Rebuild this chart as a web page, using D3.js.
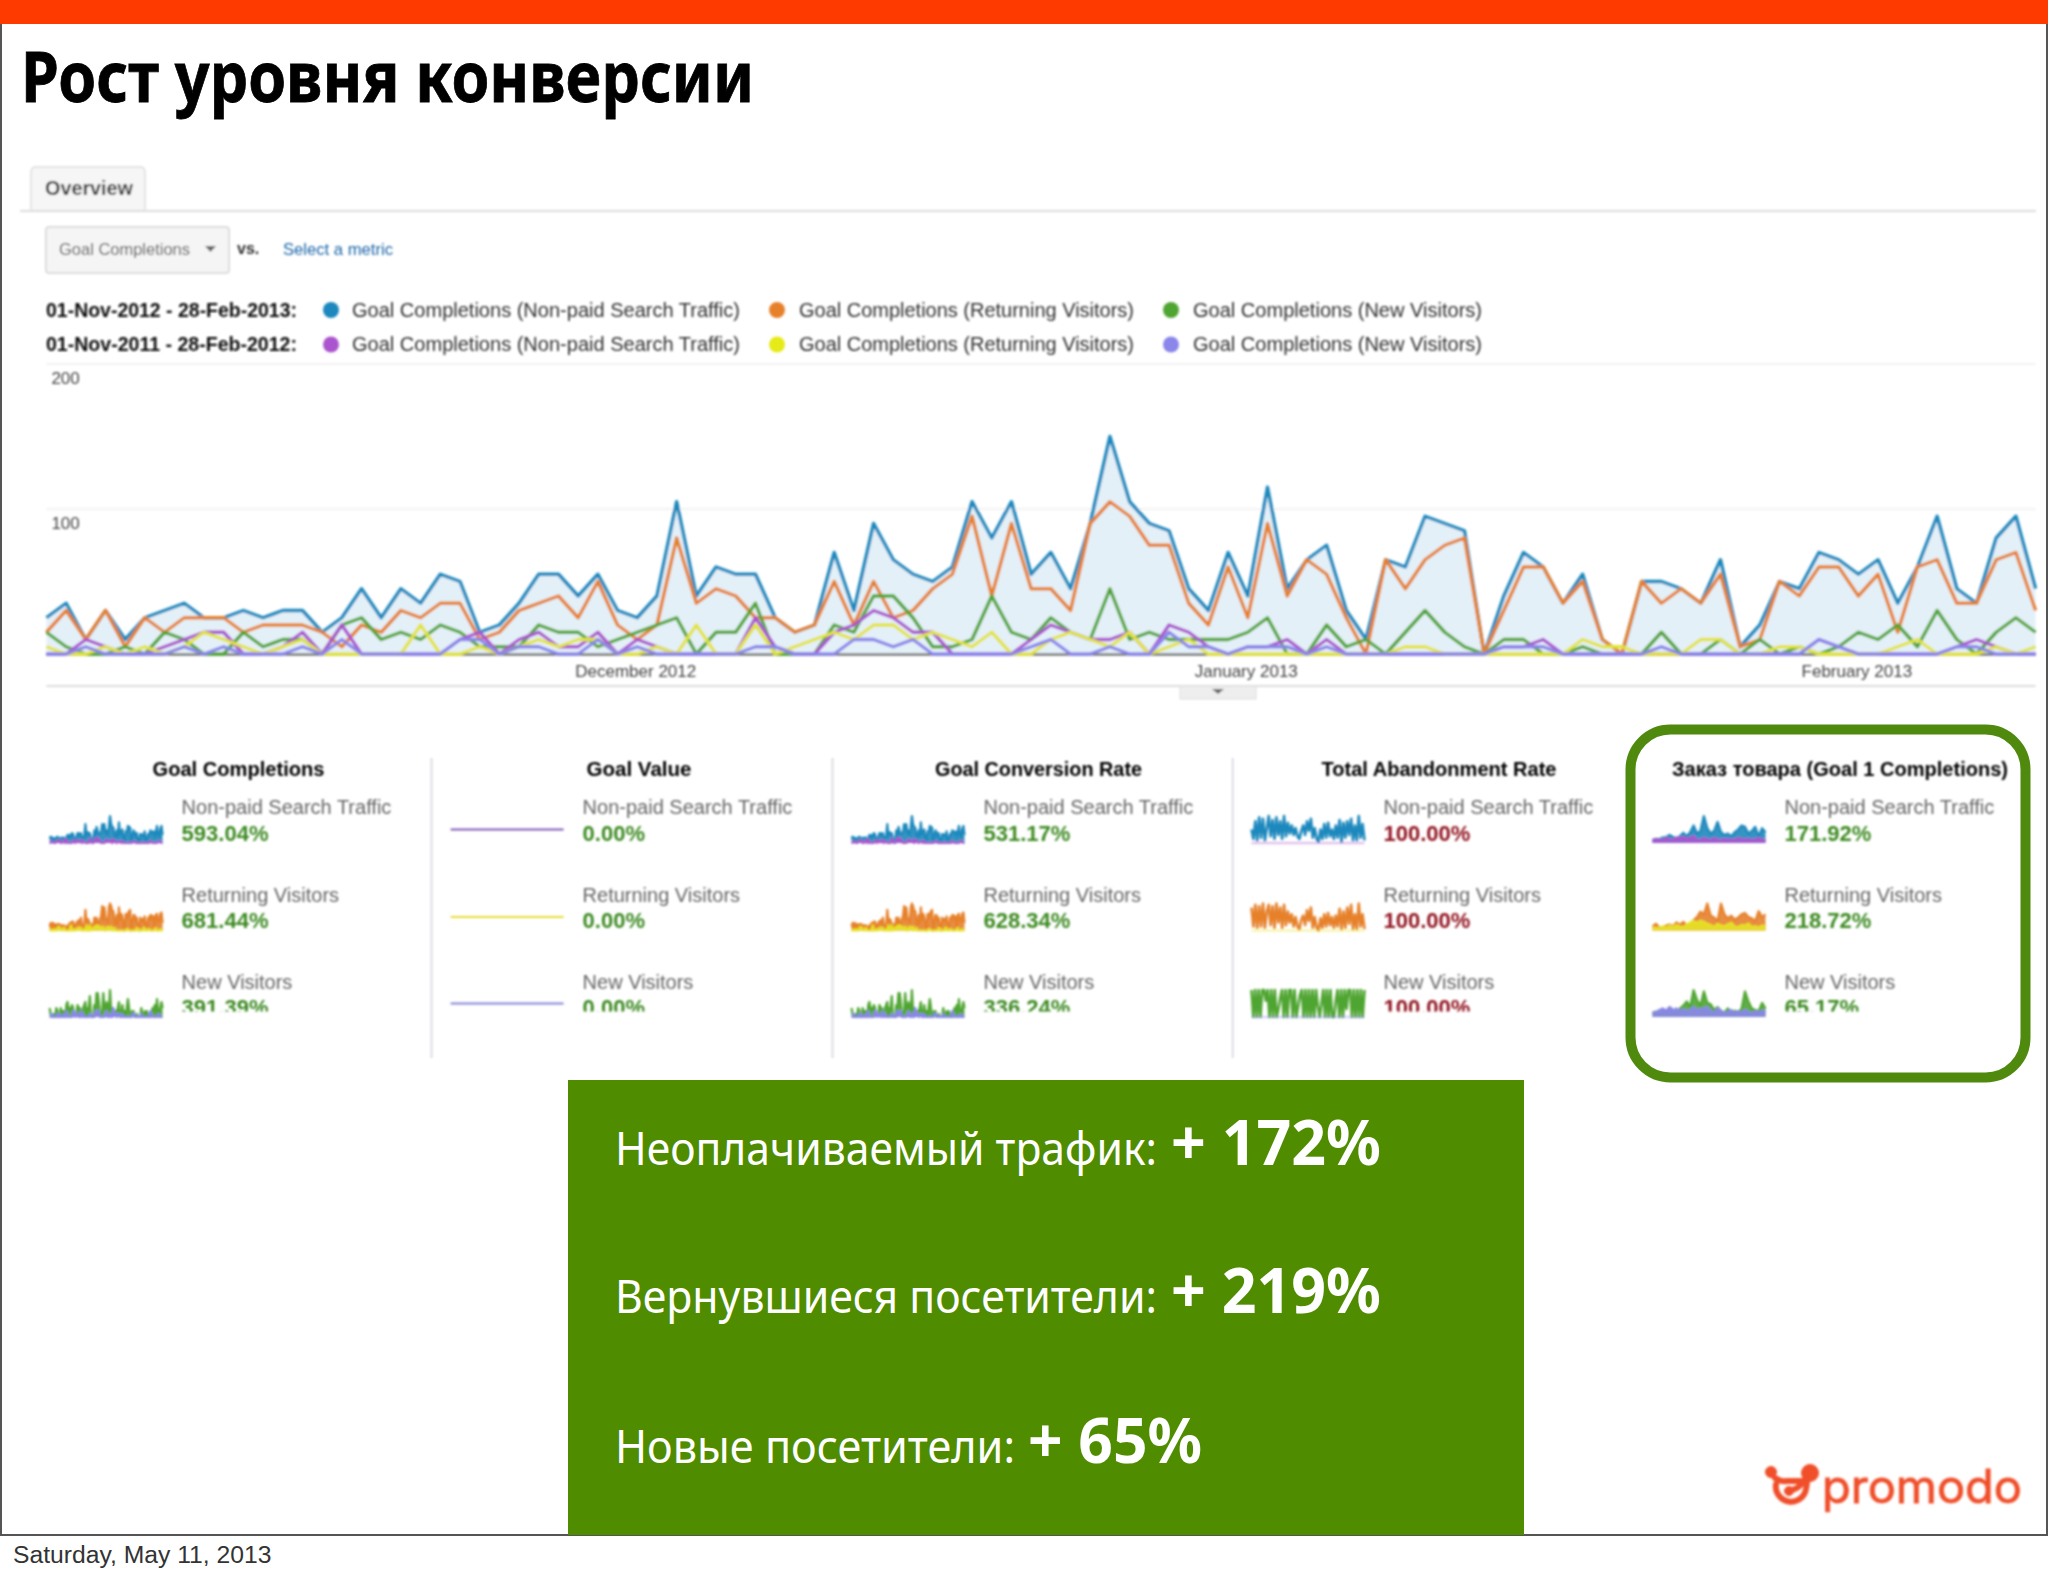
<!DOCTYPE html>
<html>
<head>
<meta charset="utf-8">
<style>
  html, body { margin: 0; padding: 0; background: #fff; }
  svg { display: block; }
  text { font-family: "Liberation Sans", Arial, sans-serif; }
</style>
<script src="https://cdn.jsdelivr.net/npm/d3@7/dist/d3.min.js"></script>
</head>
<body>
<svg id="slide" width="2048" height="1576"></svg>
<script>
// Daily goal completions
var blueCurrent = [
  25,35,10,30,10,25,30,35,25,25,30,25,30,30,15,25,45,25,45,35,55,50,15,20,35,55,55,40,55,30,25,40,105,40,
  60,55,55,25,15,20,70,30,90,65,55,50,60,105,80,105,55,70,45,90,150,105,90,85,45,30,70,40,115,45,65,75,30,10,
  65,60,95,90,85,0,40,70,60,35,55,10,0,50,50,45,35,65,5,20,50,45,70,65,55,65,35,60,95,45,35,80,95,45];
var orangeCurrent = [
  15,30,10,30,5,25,15,25,25,25,15,20,20,20,15,5,20,15,30,25,35,35,10,15,30,35,40,25,50,20,10,20,80,35,
  45,40,25,25,15,20,50,20,50,25,30,45,55,95,40,90,45,45,30,90,105,95,75,75,35,20,60,25,90,40,65,55,25,0,
  65,45,65,75,80,0,30,60,60,35,50,10,0,50,35,45,35,55,5,10,50,40,60,60,40,55,15,60,65,35,35,65,70,30];
var greenCurrent = [
  15,5,0,0,5,0,15,10,0,0,15,5,10,10,0,20,25,10,15,10,20,15,5,5,5,20,15,15,5,10,15,20,25,0,
  15,15,35,0,0,0,20,15,40,40,25,5,5,10,40,15,10,25,15,10,45,10,15,10,10,10,10,15,25,0,0,20,5,10,
  0,15,30,15,5,0,10,10,0,0,5,0,0,0,15,0,0,10,0,10,0,5,0,5,15,10,20,5,30,10,0,15,25,15];
var purplePrev = [
  0,0,10,5,0,0,5,10,15,15,0,0,5,15,0,20,0,0,0,0,0,10,15,0,10,15,5,5,15,0,10,5,0,0,
  0,0,25,5,0,0,15,20,30,25,15,15,0,0,0,0,10,20,15,10,10,15,0,20,15,5,0,5,5,10,0,10,0,0,
  0,0,0,0,0,0,5,5,10,0,0,0,0,0,0,0,0,0,0,0,0,0,10,5,0,0,0,0,0,5,10,5,0,0];
var yellowPrev = [
  5,0,0,5,0,5,0,5,15,10,5,0,5,10,0,0,0,0,0,20,0,0,5,0,5,10,5,10,10,0,0,5,0,20,
  0,0,20,0,5,10,15,10,20,20,10,15,10,5,15,0,0,10,15,10,5,15,0,5,10,0,0,0,0,0,0,0,0,0,
  0,5,5,0,0,0,0,0,0,0,10,5,5,0,0,0,10,10,0,0,5,5,0,0,0,0,5,10,0,0,0,5,0,5];
var slatePrev = [
  0,0,5,0,0,0,0,5,0,5,0,0,0,5,0,10,0,0,0,0,0,10,10,0,5,5,0,0,10,0,5,0,0,0,
  0,0,5,5,0,0,0,10,10,5,10,0,0,0,0,0,5,10,0,0,5,0,0,15,5,5,0,5,5,5,0,5,0,0,
  0,0,0,0,0,0,5,5,5,0,0,0,0,0,5,0,0,0,0,0,0,0,10,5,0,0,0,0,0,5,5,0,0,0];

var yTicks = [100, 200];
var monthTicks = [30, 61, 92];
var monthLabels = ["December 2012", "January 2013", "February 2013"];

// Sparklines that have their own shape (estimated from the small pictures)
var abandonBlue = [50,15,80,10,95,20,90,10,55,100,25,85,15,95,30,80,15,100,25,75,35,65,30,55,25,15,45,65,30,80,45,90,20,55,15,5,50,15,70,20,75,25,50,15,65,20,85,5,75,20,80,30,90,10,65,10,100,20,70,10];
var abandonOrange = [85,15,95,10,90,15,100,10,70,95,20,90,10,100,30,85,10,95,20,70,30,60,15,50,15,5,40,55,20,75,35,85,10,50,10,0,45,10,60,15,65,20,50,10,55,15,80,5,70,10,85,25,95,5,60,5,100,15,60,5];
var abandonGreen = [100,0,100,0,100,0,100,100,60,100,0,100,0,100,0,30,70,100,0,100,0,100,100,0,100,0,40,80,100,0,100,0,100,0,100,0,100,40,0,50,100,0,100,0,100,0,0,60,100,0,100,0,100,30,100,100,0,100,0,100,0,100,0,100];
var abandonPrev = [0, 0];
var goal1Blue = [12,15,14,20,22,30,22,18,25,38,25,40,65,35,45,100,55,35,45,78,40,30,35,25,40,50,65,60,35,45,60,25,55,40];
var goal1Purple = [10,15,10,12,18,14,10,20,18,22,15,20,25,12,10,18,14,10,18,12,10,15,12,14,10,18,14,12,16,10,14,18,12,10];
var goal1Orange = [15,25,10,12,18,22,15,30,20,32,18,25,38,50,70,60,100,55,48,35,100,60,45,55,40,48,60,65,50,45,35,72,50,60];
var goal1Yellow = [12,8,10,15,10,18,12,20,15,12,22,30,35,28,36,32,25,20,12,25,18,15,22,28,15,12,20,18,25,12,16,10,18,14];
var goal1Green = [12,20,10,25,18,35,22,15,30,40,55,35,95,60,40,90,50,45,25,35,22,15,30,15,22,18,28,90,55,30,25,20,50,30];
var goal1Slate = [18,14,25,30,22,35,25,30,20,28,18,25,35,22,30,28,35,20,15,30,22,12,18,25,12,20,15,25,18,12,20,15,22,20];
var flat = [0, 0];

var metricTitles = ["Goal Completions", "Goal Value", "Goal Conversion Rate", "Total Abandonment Rate", "Заказ товара (Goal 1 Completions)"];
var rowLabels = ["Non-paid Search Traffic", "Returning Visitors", "New Visitors"];
var metricValues = [
  ["593.04%", "681.44%", "391.39%"],
  ["0.00%", "0.00%", "0.00%"],
  ["531.17%", "628.34%", "336.24%"],
  ["100.00%", "100.00%", "100.00%"],
  ["171.92%", "218.72%", "65.17%"]
];
var legendDates = ["01-Nov-2012 - 28-Feb-2013:", "01-Nov-2011 - 28-Feb-2012:"];
var legendSegments = ["Goal Completions (Non-paid Search Traffic)", "Goal Completions (Returning Visitors)", "Goal Completions (New Visitors)"];
var calloutLabels = ["Неоплачиваемый трафик:", "Вернувшиеся посетители:", "Новые посетители:"];
var calloutValues = ["+ 172%", "+ 219%", "+ 65%"];

var colors = {
  blue: "#1f88bd", orange: "#e6812c", green: "#50a533",
  purple: "#aa55cf", yellow: "#e2e33a", slate: "#8a86ea"
};

var svg = d3.select("#slide");

// Small helper for all the plain text on the slide
function label(parent, x, y, str, size, color, opts) {
  opts = opts || {};
  var t = parent.append("text")
    .attr("x", x).attr("y", y)
    .attr("font-size", size)
    .attr("fill", color)
    .attr("font-weight", opts.weight || "normal")
    .attr("text-anchor", opts.anchor || "start")
    .text(str);
  if (opts.family) t.style("font-family", opts.family);
  if (opts.width) t.attr("textLength", opts.width).attr("lengthAdjust", "spacingAndGlyphs");
  return t;
}

// The analytics screenshot is soft in the reference
var defs = svg.append("defs");
defs.append("filter").attr("id", "soft").attr("x", "-1%").attr("y", "-1%").attr("width", "102%").attr("height", "102%")
  .append("feGaussianBlur").attr("stdDeviation", 0.85);
defs.append("filter").attr("id", "softLogo").attr("x", "-5%").attr("y", "-5%").attr("width", "110%").attr("height", "110%")
  .append("feGaussianBlur").attr("stdDeviation", 0.85);
defs.append("clipPath").attr("id", "cutRow")
  .append("rect").attr("x", 0).attr("y", 0).attr("width", 2048).attr("height", 1011.5);

// Slide frame
svg.append("rect").attr("x", 1).attr("y", 1).attr("width", 2046).attr("height", 1534)
  .attr("fill", "#fff").attr("stroke", "#555").attr("stroke-width", 2);
svg.append("rect").attr("x", 0).attr("y", 0).attr("width", 2048).attr("height", 24).attr("fill", "#ff3a00");

label(svg, 21, 102, "Рост уровня конверсии", 70, "#000", { weight: "bold", family: "'Noto Sans'", width: 733 })
  .attr("stroke", "#000").attr("stroke-width", 0.8);

var shot = svg.append("g").attr("filter", "url(#soft)");

// Tab row
shot.append("path").attr("d", "M31,211V172q0,-5 5,-5H140q5,0 5,5V211Z").attr("fill", "#f6f6f6").attr("stroke", "#ddd").attr("stroke-width", 1.5);
shot.append("line").attr("x1", 20).attr("x2", 2036).attr("y1", 211).attr("y2", 211).attr("stroke", "#dcdde0").attr("stroke-width", 2);
label(shot, 45, 195, "Overview", 20, "#333", { weight: "bold", width: 88 });

// Metric dropdown
shot.append("rect").attr("x", 46).attr("y", 227).attr("width", 183).attr("height", 46).attr("rx", 3)
  .attr("fill", "#f5f5f5").attr("stroke", "#ddd").attr("stroke-width", 2);
label(shot, 59, 255, "Goal Completions", 17, "#555", { width: 131 });
shot.append("path").attr("d", "M205,246h11l-5.5,6Z").attr("fill", "#666");
label(shot, 237, 254, "vs.", 16, "#333", { weight: "bold" });
label(shot, 283, 255, "Select a metric", 17, "#1f66a8", { width: 110 });

// Legend
var legendRows = [
  { y: 316.5, dots: [colors.blue, colors.orange, colors.green] },
  { y: 351, dots: [colors.purple, "#e6ea18", colors.slate] }
];
var dotX = [331, 777, 1171];
var segX = [352, 799, 1193];
var segW = [388, 335, 289];
legendRows.forEach(function(row, r) {
  label(shot, 46, row.y, legendDates[r], 19.5, "#111", { weight: "bold", width: 251 });
  legendSegments.forEach(function(seg, i) {
    shot.append("circle").attr("cx", dotX[i]).attr("cy", row.y - 6.5).attr("r", 8).attr("fill", row.dots[i]);
    label(shot, segX[i], row.y, seg, 19.5, "#333", { width: segW[i] });
  });
});

// Main chart
var plotLeft = 46.4, plotRight = 2035.6, plotBottom = 654, plotTop = 364;
var x = d3.scaleLinear().domain([0, blueCurrent.length - 1]).range([plotLeft, plotRight]);
var y = d3.scaleLinear().domain([0, 200]).range([plotBottom, plotTop]);

shot.selectAll(".grid").data(yTicks).enter().append("line")
  .attr("class", "grid")
  .attr("x1", plotLeft).attr("x2", plotRight)
  .attr("y1", function(d) { return y(d); }).attr("y2", function(d) { return y(d); })
  .attr("stroke", "#eeeeee").attr("stroke-width", 1.5);

var area = d3.area()
  .x(function(d, i) { return x(i); })
  .y0(plotBottom)
  .y1(function(d) { return y(d); });
var line = d3.line()
  .x(function(d, i) { return x(i); })
  .y(function(d) { return y(d); });

shot.append("path").datum(blueCurrent).attr("d", area).attr("fill", "#e4f0f8");
shot.append("line").attr("x1", plotLeft).attr("x2", plotRight).attr("y1", plotBottom + 0.5).attr("y2", plotBottom + 0.5)
  .attr("stroke", "#555").attr("stroke-width", 2);

[
  [blueCurrent, colors.blue],
  [orangeCurrent, colors.orange],
  [greenCurrent, colors.green],
  [purplePrev, colors.purple],
  [yellowPrev, colors.yellow],
  [slatePrev, colors.slate]
].forEach(function(s) {
  shot.append("path").datum(s[0]).attr("d", line)
    .attr("fill", "none").attr("stroke", s[1]).attr("stroke-width", 3.4)
    .attr("stroke-linejoin", "round");
});

var xAxis = d3.axisBottom(x).tickValues(monthTicks)
  .tickFormat(function(d, i) { return monthLabels[i]; })
  .tickSize(0).tickPadding(11);
var xAxisG = shot.append("g").attr("transform", "translate(-2," + plotBottom + ")").call(xAxis);
xAxisG.select(".domain").remove();
xAxisG.selectAll("text").attr("font-size", 17).attr("fill", "#444").style("font-family", "'Liberation Sans'");

var yAxis = d3.axisRight(y).tickValues(yTicks).tickSize(0).tickPadding(5);
var yAxisG = shot.append("g").attr("transform", "translate(" + plotLeft + ",0)").call(yAxis);
yAxisG.select(".domain").remove();
yAxisG.selectAll("text").attr("font-size", 17).attr("fill", "#444").attr("dy", 19).style("font-family", "'Liberation Sans'");

// Line under the chart with the little collapse handle
shot.append("line").attr("x1", plotLeft).attr("x2", plotRight).attr("y1", 686).attr("y2", 686).attr("stroke", "#dcdde0").attr("stroke-width", 2);
shot.append("rect").attr("x", 1180).attr("y", 686).attr("width", 76).attr("height", 13).attr("fill", "#eeeeee").attr("stroke", "#ddd");
shot.append("path").attr("d", "M1212,689h12l-6,5Z").attr("fill", "#666");

// Metric columns
var columnLeft = [49.6, 450.6, 851.5, 1251.5, 1652.5];
var titleCenter = [238.5, 639, 1038.5, 1439, 1840];
var titleWidth = [172, 105, 207, 235, 336];
var rowBottom = [843, 930.5, 1017];
var labelBase = [814, 902, 989];
var valueBase = [840.5, 927.5, 1014.5];
var dividers = [431.5, 832.5, 1232.7];
var sparkWidth = 113, sparkHeight = 27;

var sparkColors = [
  [colors.blue, colors.purple],
  [colors.orange, "#e6e226"],
  [colors.green, colors.slate]
];
var flatColors = ["#7f5bb5", "#e6de30", "#8585d8"];
var sparkSeries = [
  [[blueCurrent, purplePrev], [orangeCurrent, yellowPrev], [greenCurrent, slatePrev]],
  [[null, flat], [null, flat], [null, flat]],
  [[blueCurrent, purplePrev], [orangeCurrent, yellowPrev], [greenCurrent, slatePrev]],
  [[abandonBlue, abandonPrev], [abandonOrange, abandonPrev], [abandonGreen, abandonPrev]],
  [[goal1Blue, goal1Purple], [goal1Orange, goal1Yellow], [goal1Green, goal1Slate]]
];

shot.selectAll(".divider").data(dividers).enter().append("line")
  .attr("class", "divider")
  .attr("x1", function(d) { return d; }).attr("x2", function(d) { return d; })
  .attr("y1", 758).attr("y2", 1058)
  .attr("stroke", "#dcdce4").attr("stroke-width", 2);

metricTitles.forEach(function(title, c) {
  label(shot, titleCenter[c], 776, title, 20, "#000", { weight: "bold", anchor: "middle", width: titleWidth[c] });

  rowLabels.forEach(function(name, r) {
    var left = columnLeft[c];
    var textX = left + 132;
    label(shot, textX, labelBase[r], name, 20, "#666");

    var valueColor = c === 3 ? "#921820" : "#3c8a24";
    var v = label(shot, textX, valueBase[r], metricValues[c][r], 22, valueColor, { weight: "bold" });
    if (r === 2) v.attr("clip-path", "url(#cutRow)");

    // Sparkline: this period first, last year's on top
    var pair = sparkSeries[c][r];
    var maxVal = d3.max(pair[0] ? pair[0].concat(pair[1]) : pair[1]);
    var sy = d3.scaleLinear().domain([0, maxVal]).range([rowBottom[r], rowBottom[r] - sparkHeight]);
    pair.forEach(function(series, k) {
      if (!series) return;
      var sx = d3.scaleLinear().domain([0, series.length - 1]).range([left, left + sparkWidth]);
      var sparkLine = d3.line().x(function(d, i) { return sx(i); }).y(function(d) { return sy(d); });
      var sparkArea = d3.area().x(function(d, i) { return sx(i); }).y0(rowBottom[r]).y1(function(d) { return sy(d); });
      var color = c === 1 ? flatColors[r] : sparkColors[r][k];

      // Flat and abandonment sparklines are plain lines, the rest read as filled
      if (c !== 1 && c !== 3) {
        shot.append("path").datum(series).attr("d", sparkArea).attr("fill", color).attr("fill-opacity", 0.9);
      }
      shot.append("path").datum(series).attr("d", sparkLine)
        .attr("fill", "none")
        .attr("stroke", color)
        .attr("stroke-opacity", c === 3 && k === 1 ? 0.35 : 1)
        .attr("stroke-width", c === 3 ? 2.6 : 2.2)
        .attr("stroke-linejoin", "round");
    });
  });
});

// Highlight around the last column
svg.append("rect").attr("x", 1630.5).attr("y", 729.5).attr("width", 395).attr("height", 348).attr("rx", 40)
  .attr("fill", "none").attr("stroke", "#4f8a0f").attr("stroke-width", 10);

// Green callout
svg.append("rect").attr("x", 568).attr("y", 1080).attr("width", 956).attr("height", 455).attr("fill", "#4f8c00");
var calloutBase = [1165, 1313, 1463];
var calloutLabelW = [542, 542, 400];
var calloutValueX = [1171, 1171, 1028];
var calloutValueW = [210, 210, 174];
calloutLabels.forEach(function(txt, i) {
  label(svg, 615, calloutBase[i], txt, 46, "#fff", { family: "'Noto Sans'", width: calloutLabelW[i] });
  label(svg, calloutValueX[i], calloutBase[i], calloutValues[i], 63, "#fff", { weight: "bold", family: "'Noto Sans'", width: calloutValueW[i] });
});

// Logo
var logo = svg.append("g").attr("fill", "#f04f2b").attr("stroke", "#f04f2b").attr("filter", "url(#softLogo)");
logo.append("circle").attr("cx", 1771).attr("cy", 1472).attr("r", 5.5);
logo.append("circle").attr("cx", 1810).attr("cy", 1473).attr("r", 8.5);
logo.append("circle").attr("cx", 1789).attr("cy", 1491).attr("r", 4.5);
logo.append("path").attr("d", "M1775,1478q6,4 12,3H1800M1776,1484a15,15 0 0 0 30,5q1,-5 1,-8M1792,1490q8,-2 12,-10")
  .attr("fill", "none").attr("stroke-width", 6).attr("stroke-linecap", "round");
label(logo, 1822, 1503, "promodo", 46, "#f04f2b", { family: "'Inter'", weight: 400, width: 200 }).attr("stroke-width", 0.8);

// Date under the slide
label(svg, 13, 1563, "Saturday, May 11, 2013", 24.7, "#333");
</script>
</body>
</html>
